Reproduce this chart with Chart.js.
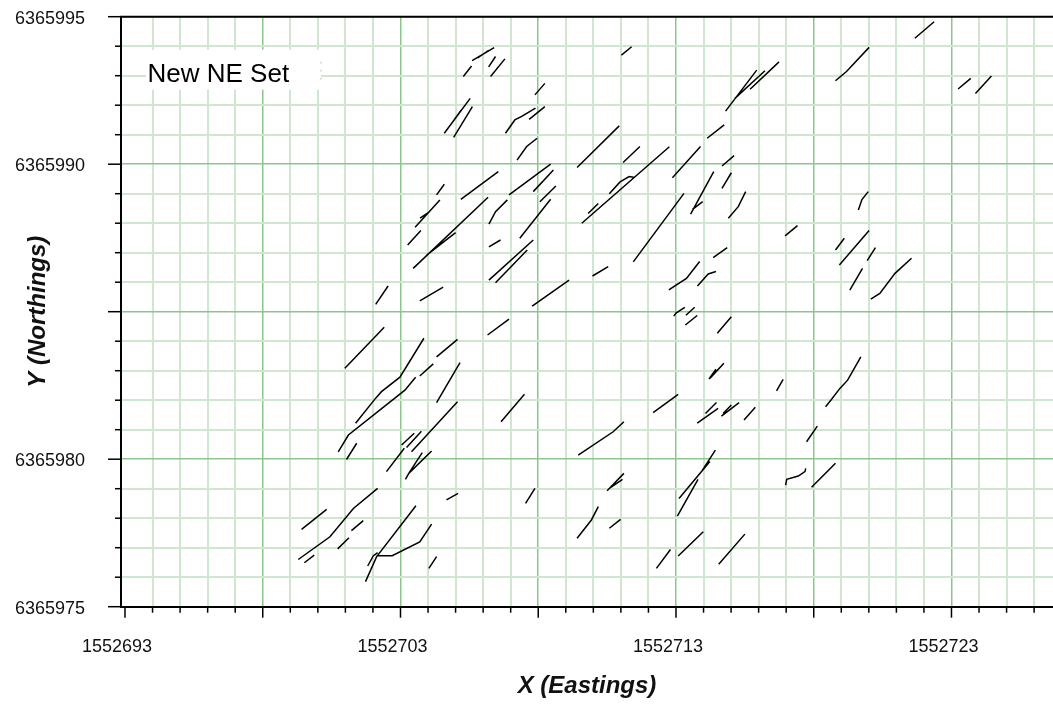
<!DOCTYPE html>
<html>
<head>
<meta charset="utf-8">
<script src="https://cdn.jsdelivr.net/npm/chart.js@4.4.1/dist/chart.umd.min.js"></script>
<style>
  html, body { margin: 0; padding: 0; background: #fff; }
  #wrap { width: 1053px; height: 704px; position: relative; }
</style>
</head>
<body>
<div id="wrap"><canvas id="fracChart"></canvas></div>
<script>
// grid origin (metres)
const E0 = 1552693;
const N0 = 6365975;

// labelled ticks
const xLabels = [1552693, 1552703, 1552713, 1552723];
const yLabels = [6365975, 6365980, 6365990, 6365995];

// fracture traces, each one [dE, dN, dE, dN, ...] in metres from E0 / N0
const fractures = [
    [12.6, 18.51, 13.4, 18.95],
    [12.8, 18.6, 13.2, 18.86],
    [12.28, 17.97, 12.58, 18.33],
    [13.27, 17.97, 13.79, 18.57],
    [13.2, 18.3, 13.45, 18.65],
    [11.59, 16.05, 12.53, 17.23],
    [11.93, 15.91, 12.61, 16.95],
    [11.9, 16.44, 12.2, 16.83],
    [13.81, 16.05, 14.15, 16.5, 14.4, 16.62, 14.9, 16.9],
    [14.67, 16.52, 15.24, 16.95],
    [14.23, 15.14, 14.58, 15.6, 14.96, 15.88],
    [14.88, 17.35, 15.24, 17.74],
    [18.02, 18.7, 18.39, 18.98],
    [16.41, 14.89, 17.94, 16.3],
    [18.08, 15.06, 18.69, 15.6],
    [16.58, 13.0, 19.76, 15.59],
    [17.58, 14.0, 17.97, 14.4, 18.3, 14.58, 18.5, 14.55],
    [19.87, 14.54, 20.89, 15.6],
    [21.13, 15.88, 21.75, 16.33],
    [21.67, 14.94, 22.11, 15.29],
    [21.67, 14.18, 22.01, 14.71],
    [20.53, 13.31, 21.37, 14.75],
    [20.6, 13.47, 20.97, 13.73],
    [18.45, 11.69, 20.29, 14.01],
    [21.9, 13.17, 22.26, 13.56, 22.53, 14.07],
    [21.8, 16.8, 22.93, 18.19],
    [22.14, 17.23, 23.23, 18.17],
    [22.69, 17.54, 23.74, 18.47],
    [13.94, 13.96, 15.45, 15.0],
    [14.82, 14.07, 15.55, 14.8],
    [15.06, 13.73, 15.64, 14.26],
    [14.33, 12.49, 15.45, 13.81],
    [12.19, 13.81, 13.55, 14.75],
    [11.31, 13.96, 11.59, 14.32],
    [10.53, 12.86, 11.43, 13.79],
    [10.71, 13.17, 11.01, 13.36],
    [10.46, 11.47, 13.18, 13.88],
    [10.95, 11.92, 12.0, 12.68],
    [10.26, 12.26, 10.74, 12.75],
    [13.21, 12.97, 13.45, 13.39, 13.88, 13.79],
    [13.21, 12.2, 13.63, 12.43],
    [13.21, 11.07, 14.82, 12.43],
    [13.45, 10.98, 14.6, 12.09],
    [10.7, 10.37, 11.55, 10.83],
    [9.1, 10.25, 9.55, 10.87],
    [7.98, 8.08, 9.41, 9.47],
    [8.37, 6.22, 9.1, 7.07, 9.31, 7.29, 9.98, 7.78, 10.85, 9.1],
    [11.31, 8.47, 12.07, 9.06],
    [10.7, 7.82, 11.19, 8.23],
    [11.31, 6.92, 12.16, 8.27],
    [13.16, 9.21, 13.94, 9.75],
    [7.74, 5.25, 8.11, 5.82, 10.16, 7.34, 10.55, 7.78],
    [16.81, 13.33, 17.18, 13.67],
    [16.97, 11.21, 17.54, 11.53],
    [14.78, 10.19, 16.12, 11.07],
    [21.35, 11.83, 21.86, 12.17],
    [19.74, 10.74, 20.38, 11.13, 20.86, 11.7],
    [20.78, 10.87, 21.17, 11.28, 21.45, 11.36],
    [19.92, 9.85, 20.0, 9.95, 20.32, 10.15],
    [20.36, 9.88, 20.68, 10.15],
    [20.34, 9.55, 20.77, 9.87],
    [21.5, 9.27, 22.01, 9.83],
    [21.23, 7.74, 21.74, 8.25],
    [21.2, 7.72, 21.45, 8.05],
    [26.62, 13.45, 26.75, 13.8, 26.98, 14.07],
    [23.96, 12.57, 24.41, 12.92],
    [25.79, 12.09, 26.11, 12.49],
    [25.93, 11.58, 27.01, 12.75],
    [26.94, 11.73, 27.24, 12.17],
    [26.31, 10.73, 26.77, 11.47],
    [27.07, 10.43, 27.4, 10.62, 27.95, 11.3, 28.55, 11.81],
    [25.43, 6.78, 25.62, 7.0, 25.95, 7.4, 26.23, 7.68, 26.71, 8.47],
    [23.65, 7.32, 23.89, 7.71],
    [28.67, 19.27, 29.37, 19.83],
    [25.79, 17.83, 26.19, 18.14, 27.01, 18.96],
    [30.24, 17.55, 30.7, 17.91],
    [30.87, 17.4, 31.45, 17.99],
    [8.04, 4.99, 8.41, 5.54],
    [10.4, 5.25, 12.07, 6.95],
    [10.04, 5.48, 10.5, 5.88],
    [10.22, 5.4, 10.76, 5.95],
    [9.49, 4.58, 10.14, 5.37],
    [10.18, 4.32, 10.3, 4.52, 10.79, 5.22],
    [10.3, 4.52, 11.13, 5.28],
    [11.67, 3.62, 12.09, 3.84],
    [13.65, 6.27, 14.5, 7.2],
    [6.41, 2.62, 7.32, 3.3],
    [6.29, 1.6, 7.44, 2.37, 8.29, 3.33, 9.17, 4.01],
    [6.51, 1.49, 6.87, 1.75],
    [8.22, 2.58, 8.65, 2.92],
    [7.72, 1.96, 8.13, 2.34],
    [8.73, 0.85, 9.13, 1.69, 10.56, 3.42],
    [9.13, 1.73, 9.7, 1.73, 10.7, 2.2, 11.13, 2.8],
    [8.81, 1.38, 9.01, 1.72, 9.17, 1.83],
    [11.03, 1.3, 11.31, 1.7],
    [19.17, 6.58, 20.08, 7.2],
    [21.07, 6.55, 21.47, 6.92],
    [20.77, 6.22, 21.53, 6.72],
    [21.65, 6.46, 22.29, 6.92],
    [21.71, 6.55, 22.01, 6.84],
    [22.47, 6.33, 22.88, 6.76],
    [16.45, 5.14, 17.72, 5.93, 18.11, 6.27],
    [14.54, 3.5, 14.88, 4.01],
    [17.5, 3.93, 18.11, 4.52],
    [17.58, 4.01, 18.06, 4.32],
    [16.41, 2.32, 16.93, 2.94, 17.18, 3.39],
    [17.58, 2.66, 17.99, 2.96],
    [20.11, 3.67, 21.23, 4.92],
    [20.05, 3.07, 20.8, 4.32],
    [20.96, 4.63, 21.43, 5.31],
    [19.29, 1.3, 19.8, 1.94],
    [20.08, 1.72, 20.99, 2.54],
    [21.55, 1.44, 22.5, 2.46],
    [24.74, 5.59, 25.13, 6.12],
    [23.98, 4.12, 24.02, 4.32, 24.44, 4.43, 24.68, 4.58, 24.71, 4.69],
    [24.92, 4.05, 25.79, 4.86]
];

// one scatter series, traces split by null gaps
function buildPoints() {
    const pts = [];
    fractures.forEach(tr => {
        for (let i = 0; i < tr.length; i += 2) {
            pts.push({ x: E0 + tr[i], y: N0 + tr[i + 1] });
        }
        pts.push({ x: E0 + tr[0], y: null });
    });
    return pts;
}

const MAJOR = '#8cc68c';
const MINOR = '#cfe6cf';
const tickFont = { family: "'Liberation Sans', Arial, sans-serif", size: 18 };
const titleFont = { family: "'Liberation Sans', Arial, sans-serif", size: 24, weight: 'bold', style: 'italic' };

// top frame line, custom tick marks, text box
const framePlugin = {
    id: 'frame',
    beforeDatasetsDraw(chart) {
        const { ctx, chartArea: a } = chart;
        ctx.save();
        ctx.fillStyle = '#fff';
        ctx.fillRect(a.left + 25, a.top + 33, 175, 40);
        // faint dotted edge of the text box
        ctx.strokeStyle = '#bbb';
        ctx.lineWidth = 1;
        ctx.setLineDash([2, 6]);
        ctx.beginPath();
        ctx.moveTo(a.left + 200, a.top + 45);
        ctx.lineTo(a.left + 200, a.top + 65);
        ctx.stroke();
        ctx.setLineDash([]);
        ctx.fillStyle = '#000';
        ctx.font = "26px 'Liberation Sans', Arial, sans-serif";
        ctx.textBaseline = 'alphabetic';
        ctx.fillText('New NE Set', a.left + 26.5, a.top + 65);
        ctx.restore();
    },
    afterDraw(chart) {
        const { ctx, chartArea: a, scales: { x, y } } = chart;
        ctx.save();
        ctx.strokeStyle = '#000';
        ctx.lineWidth = 2;
        ctx.beginPath();
        ctx.moveTo(a.left - 1, a.top);
        ctx.lineTo(a.right, a.top);
        ctx.stroke();
        ctx.lineWidth = 1.5;
        for (let v = E0; v <= x.max; v++) {
            const px = x.getPixelForValue(v);
            const len = (v - E0) % 5 === 0 ? 11 : 6;
            ctx.beginPath();
            ctx.moveTo(px, a.bottom);
            ctx.lineTo(px, a.bottom + len);
            ctx.stroke();
        }
        for (let v = N0; v <= y.max; v++) {
            const py = y.getPixelForValue(v);
            const len = (v - N0) % 5 === 0 ? 13 : 6;
            ctx.beginPath();
            ctx.moveTo(a.left, py);
            ctx.lineTo(a.left - len, py);
            ctx.stroke();
        }
        ctx.restore();
    }
};

function gridColor(base) {
    return c => {
        const d = Math.round(c.tick.value - base);
        if (d === 0 && base === E0) return 'rgba(0,0,0,0)';
        return d % 5 === 0 ? MAJOR : MINOR;
    };
}
function gridWidth(base) {
    return c => (Math.round(c.tick.value - base) % 5 === 0 ? 1.5 : 2);
}

const chart = new Chart(document.getElementById('fracChart'), {
    type: 'scatter',
    data: {
        datasets: [{
            label: 'New NE Set',
            data: buildPoints(),
            showLine: true,
            spanGaps: false,
            borderColor: '#000',
            borderWidth: 1.5,
            pointRadius: 0,
            pointHoverRadius: 0,
            tension: 0
        }]
    },
    options: {
        responsive: true,
        maintainAspectRatio: false,
        animation: false,
        layout: { padding: { top: 16.7, left: 0, right: 0, bottom: 0 } },
        plugins: { legend: { display: false }, tooltip: { enabled: false } },
        scales: {
            x: {
                type: 'linear',
                min: E0 - 0.145,
                max: E0 + 33.685,
                afterBuildTicks: s => {
                    s.ticks = [];
                    for (let v = E0; v <= s.max; v++) s.ticks.push({ value: v });
                },
                afterFit: s => {
                    s.height = 97.3;
                    s.paddingLeft = 0;
                    s.paddingRight = 0;
                },
                grid: { color: gridColor(E0), lineWidth: gridWidth(E0), drawTicks: false },
                border: { color: '#000', width: 2 },
                ticks: {
                    autoSkip: false,
                    maxRotation: 0,
                    padding: 30,
                    labelOffset: -8,
                    color: '#111',
                    font: tickFont,
                    callback: v => (xLabels.includes(v) ? String(v) : '')
                },
                title: { display: true, text: 'X (Eastings)', color: '#111', font: titleFont, padding: { top: 0, bottom: 3 } }
            },
            y: {
                type: 'linear',
                min: N0,
                max: N0 + 20,
                afterBuildTicks: s => {
                    s.ticks = [];
                    for (let v = N0; v <= s.max; v++) s.ticks.push({ value: v });
                },
                afterFit: s => {
                    s.width = 121;
                    s.paddingTop = 0;
                    s.paddingBottom = 0;
                },
                grid: { color: gridColor(N0), lineWidth: gridWidth(N0), drawTicks: false },
                border: { color: '#000', width: 2 },
                ticks: {
                    autoSkip: false,
                    padding: 36,
                    labelOffset: 2,
                    color: '#111',
                    font: tickFont,
                    callback: v => (yLabels.includes(v) ? String(v) : '')
                },
                title: { display: true, text: 'Y (Northings)', color: '#111', font: titleFont, padding: { top: 24, bottom: 0 } }
            }
        }
    },
    plugins: [framePlugin]
});
</script>
</body>
</html>
